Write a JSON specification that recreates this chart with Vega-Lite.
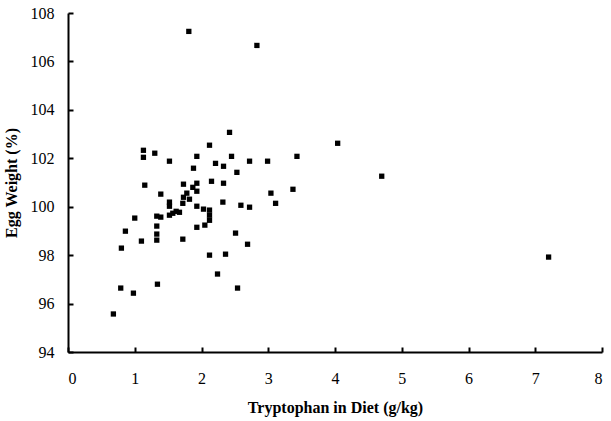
{
  "$schema": "https://vega.github.io/schema/vega-lite/v6.json",
  "width": 534,
  "height": 339,
  "autosize": {"type": "none"},
  "padding": {"left": 68, "top": 13, "right": 9, "bottom": 69},
  "background": "white",
  "config": {
    "view": {"stroke": null},
    "font": "Liberation Serif",
    "axis": {
      "grid": false,
      "domainColor": "black",
      "domainWidth": 2,
      "tickColor": "black",
      "tickWidth": 2,
      "tickSize": -5,
      "labelColor": "black",
      "labelFont": "Liberation Serif",
      "labelFontSize": 16,
      "titleColor": "black",
      "titleFont": "Liberation Serif",
      "titleFontSize": 16,
      "titleFontWeight": "bold"
    }
  },
  "data": {
    "values": [
      {"tryptophan": 0.68, "egg_weight": 95.57},
      {"tryptophan": 0.79, "egg_weight": 96.64},
      {"tryptophan": 0.98, "egg_weight": 96.43},
      {"tryptophan": 1.34, "egg_weight": 96.80},
      {"tryptophan": 0.80, "egg_weight": 98.29},
      {"tryptophan": 0.86, "egg_weight": 98.99},
      {"tryptophan": 1.10, "egg_weight": 98.58},
      {"tryptophan": 1.33, "egg_weight": 98.87},
      {"tryptophan": 1.33, "egg_weight": 98.62},
      {"tryptophan": 1.72, "egg_weight": 98.66},
      {"tryptophan": 1.33, "egg_weight": 99.20},
      {"tryptophan": 1.00, "egg_weight": 99.53},
      {"tryptophan": 1.33, "egg_weight": 99.61},
      {"tryptophan": 1.39, "egg_weight": 99.57},
      {"tryptophan": 1.52, "egg_weight": 99.65},
      {"tryptophan": 1.57, "egg_weight": 99.73},
      {"tryptophan": 1.62, "egg_weight": 99.81},
      {"tryptophan": 1.67, "egg_weight": 99.77},
      {"tryptophan": 1.52, "egg_weight": 100.19},
      {"tryptophan": 1.52, "egg_weight": 100.02},
      {"tryptophan": 1.72, "egg_weight": 100.14},
      {"tryptophan": 1.73, "egg_weight": 100.39},
      {"tryptophan": 1.82, "egg_weight": 100.31},
      {"tryptophan": 1.78, "egg_weight": 100.56},
      {"tryptophan": 1.39, "egg_weight": 100.52},
      {"tryptophan": 1.15, "egg_weight": 100.89},
      {"tryptophan": 1.73, "egg_weight": 100.93},
      {"tryptophan": 1.87, "egg_weight": 100.80},
      {"tryptophan": 1.93, "egg_weight": 100.97},
      {"tryptophan": 1.93, "egg_weight": 100.64},
      {"tryptophan": 1.93, "egg_weight": 100.02},
      {"tryptophan": 2.03, "egg_weight": 99.90},
      {"tryptophan": 2.12, "egg_weight": 99.86},
      {"tryptophan": 2.12, "egg_weight": 99.65},
      {"tryptophan": 2.12, "egg_weight": 99.44},
      {"tryptophan": 1.93, "egg_weight": 99.15},
      {"tryptophan": 2.05, "egg_weight": 99.24},
      {"tryptophan": 1.13, "egg_weight": 102.33},
      {"tryptophan": 1.13, "egg_weight": 102.04},
      {"tryptophan": 1.30, "egg_weight": 102.21},
      {"tryptophan": 1.52, "egg_weight": 101.88},
      {"tryptophan": 1.93, "egg_weight": 102.08},
      {"tryptophan": 1.88, "egg_weight": 101.59},
      {"tryptophan": 2.12, "egg_weight": 102.54},
      {"tryptophan": 2.42, "egg_weight": 103.07},
      {"tryptophan": 2.45, "egg_weight": 102.08},
      {"tryptophan": 2.21, "egg_weight": 101.79},
      {"tryptophan": 2.33, "egg_weight": 101.67},
      {"tryptophan": 2.72, "egg_weight": 101.88},
      {"tryptophan": 2.99, "egg_weight": 101.88},
      {"tryptophan": 3.43, "egg_weight": 102.08},
      {"tryptophan": 2.53, "egg_weight": 101.42},
      {"tryptophan": 2.15, "egg_weight": 101.05},
      {"tryptophan": 2.33, "egg_weight": 100.97},
      {"tryptophan": 3.04, "egg_weight": 100.56},
      {"tryptophan": 3.37, "egg_weight": 100.72},
      {"tryptophan": 3.11, "egg_weight": 100.14},
      {"tryptophan": 2.32, "egg_weight": 100.19},
      {"tryptophan": 2.59, "egg_weight": 100.06},
      {"tryptophan": 2.72, "egg_weight": 99.98},
      {"tryptophan": 2.51, "egg_weight": 98.91},
      {"tryptophan": 2.69, "egg_weight": 98.45},
      {"tryptophan": 2.12, "egg_weight": 98.00},
      {"tryptophan": 2.36, "egg_weight": 98.04},
      {"tryptophan": 2.24, "egg_weight": 97.22},
      {"tryptophan": 2.54, "egg_weight": 96.64},
      {"tryptophan": 1.81, "egg_weight": 107.24},
      {"tryptophan": 2.83, "egg_weight": 106.66},
      {"tryptophan": 4.04, "egg_weight": 102.62},
      {"tryptophan": 4.70, "egg_weight": 101.26},
      {"tryptophan": 7.20, "egg_weight": 97.92}
    ]
  },
  "mark": {"type": "point", "shape": "square", "filled": true, "size": 28, "color": "black", "opacity": 1},
  "encoding": {
    "x": {
      "field": "tryptophan",
      "type": "quantitative",
      "title": "Tryptophan in Diet (g/kg)",
      "scale": {"domain": [0, 8], "nice": false, "zero": false},
      "axis": {"values": [0, 1, 2, 3, 4, 5, 6, 7, 8], "labelPadding": 23, "titlePadding": 13}
    },
    "y": {
      "field": "egg_weight",
      "type": "quantitative",
      "title": "Egg Weight (%)",
      "scale": {"domain": [94, 108], "nice": false, "zero": false},
      "axis": {"values": [94, 96, 98, 100, 102, 104, 106, 108], "labelPadding": 19, "titlePadding": 11}
    }
  }
}
